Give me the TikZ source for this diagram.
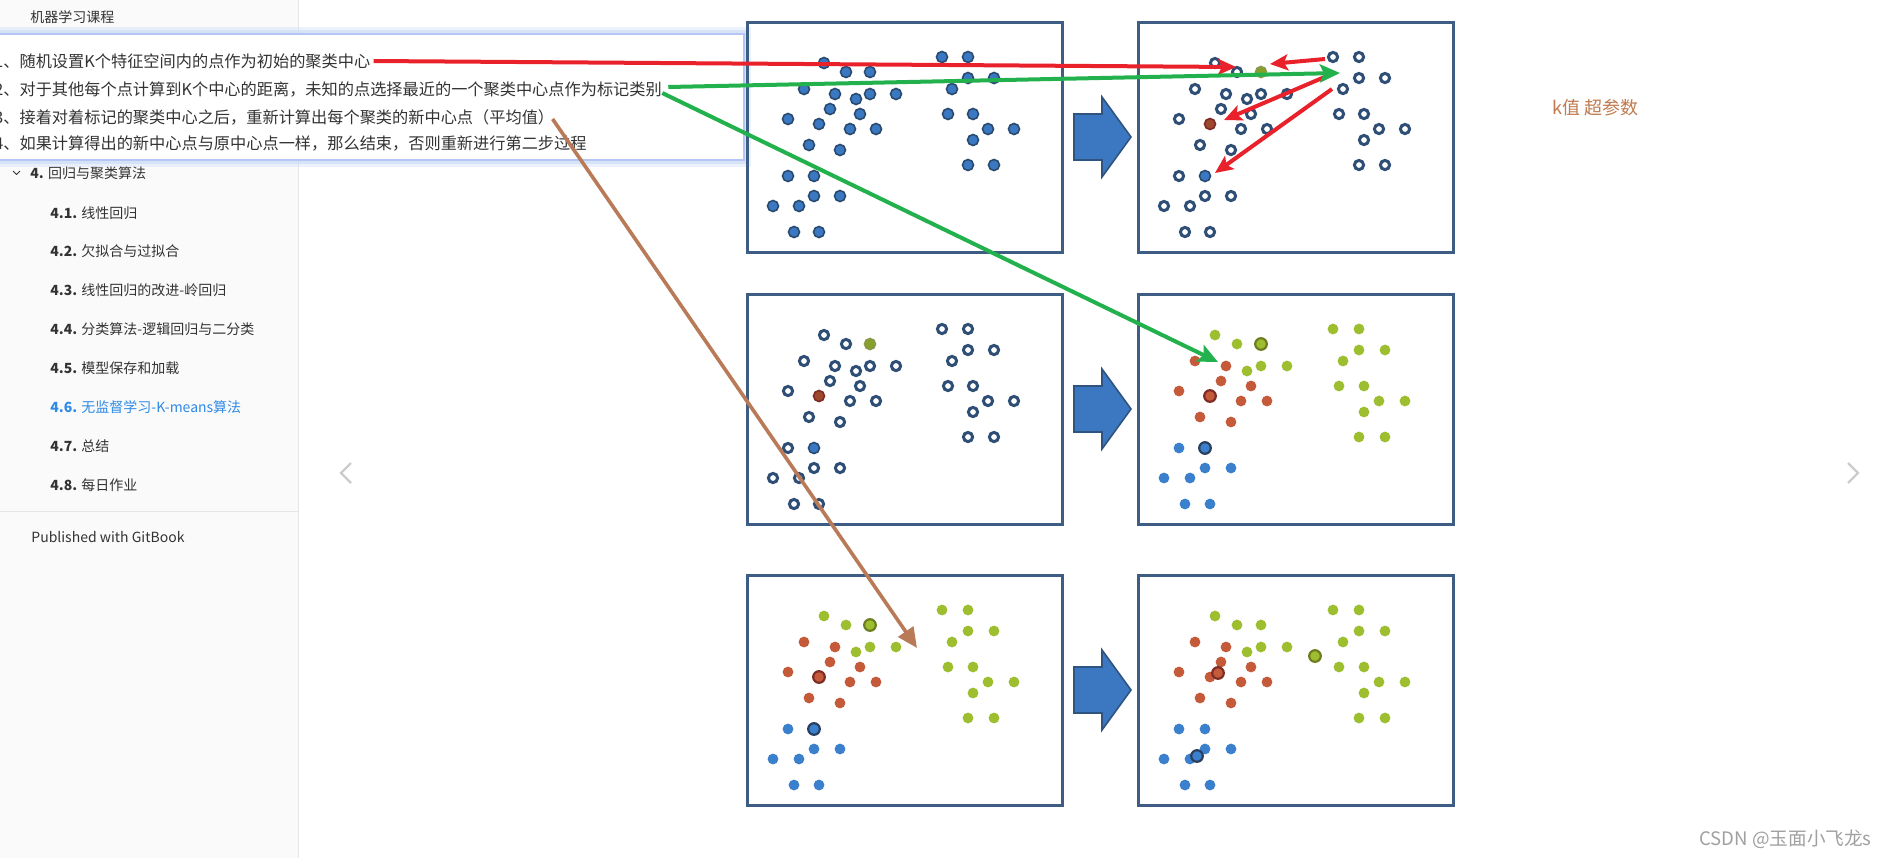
\documentclass[tikz,border=0pt]{standalone}
\usepackage{fontspec}
\setmainfont{Noto Sans CJK SC}
\usetikzlibrary{arrows.meta}
\definecolor{sidebg}{HTML}{FAFAFA}
\definecolor{sideline}{HTML}{E6E6E6}
\definecolor{textc}{HTML}{333333}
\definecolor{linkc}{HTML}{2E8AE6}
\definecolor{shadowc}{HTML}{C9DBF5}
\definecolor{panelc}{HTML}{3D5D84}
\definecolor{dotblue}{HTML}{3B78C2}
\definecolor{dotdark}{HTML}{2A4A70}
\definecolor{ringc}{HTML}{2F4E75}
\definecolor{lime}{HTML}{9DBE2F}
\definecolor{redd}{HTML}{C55A3A}
\definecolor{blued}{HTML}{3A80CC}
\definecolor{limedark}{HTML}{6E7D22}
\definecolor{reddark}{HTML}{7D2C26}
\definecolor{bluedark}{HTML}{2A3E5E}
\definecolor{arrowfill}{HTML}{3C78C1}
\definecolor{arrowdraw}{HTML}{2F5480}
\definecolor{redline}{HTML}{E8212B}
\definecolor{greenline}{HTML}{22B14C}
\definecolor{brownline}{HTML}{B97A57}
\definecolor{kcolor}{HTML}{C07A4E}
\definecolor{csdnc}{HTML}{A0A0A0}
\definecolor{chevc}{HTML}{CCCCCC}
% dot lists (panel-local px)
\newcommand\kGpts{77/41,99/50,109/77,123/72,149/72,195/35,221/35,221/56,247/56,205/67,201/92,226/92,241/107,267/107,226/118,221/143,247/143}
\newcommand\kRpts{57/67,88/72,83/87,41/97,113/92,103/107,129/107,62/123,93/128}
\newcommand\kBpts{41/154,67/174,93/174,26/184,52/184,47/210,72/210}
\tikzset{
  side/.style={anchor=west, inner sep=0pt, text=textc, font=\fontsize{7}{8}\selectfont},
  pop/.style={anchor=west, inner sep=0pt, text=textc, font=\fontsize{8.1}{9}\selectfont},
  pframe/.style={draw=panelc, line width=1.5pt},
  bdot/.style={fill=dotblue, draw=dotdark, line width=0.8pt},
  ringdot/.style={fill=white, draw=ringc, line width=1.5pt},
  barrow/.style={fill=arrowfill, draw=arrowdraw, line width=0.8pt, line join=miter},
  redarr/.style={draw=redline, line width=2pt, -{Stealth[length=9pt,width=8pt,inset=2pt]}},
  greenarr/.style={draw=greenline, line width=2pt, -{Stealth[length=10pt,width=9pt,inset=2pt]}},
  brownarr/.style={draw=brownline, line width=1.8pt, -{Triangle[length=10pt,width=9pt]}},
  chev/.style={draw=chevc, line width=1.2pt}
}
\newcommand\kframe{\draw[pframe] (0,0) rectangle (315,230);}
\newcommand\kcolored{%
  \foreach \a/\b in \kGpts {\fill[lime] (\a,\b) circle[radius=2.7pt];}
  \foreach \a/\b in \kRpts {\fill[redd] (\a,\b) circle[radius=2.7pt];}
  \foreach \a/\b in \kBpts {\fill[blued] (\a,\b) circle[radius=2.7pt];}}
\newcommand\kblock[1]{\filldraw[barrow] (1074,{#1-23}) -- (1102,{#1-23}) -- (1102,{#1-40}) -- (1131,#1) -- (1102,{#1+40}) -- (1102,{#1+23}) -- (1074,{#1+23}) -- cycle;}
\begin{document}
\begin{tikzpicture}[x=0.5pt,y=-0.5pt]
\useasboundingbox (0,0) rectangle (1887,858);
\clip (0,0) rectangle (1887,858);
\fill[white] (0,0) rectangle (1887,858);
% sidebar
\fill[sidebg] (0,0) rectangle (298,858);
\draw[sideline, line width=0.5pt] (298,0) -- (298,858);
\draw[sideline, line width=0.5pt] (0,511) -- (298,511);
\node[side] (s0) at (30,17) {机器学习课程};
\draw[textc, line width=0.5pt] (13,171) -- (16.5,174.5) -- (20,171);
\node[side] (s4) at (30,173) {\textbf{4.} 回归与聚类算法};
\node[side] (s41) at (50,213) {\textbf{4.1.} 线性回归};
\node[side] (s42) at (50,251) {\textbf{4.2.} 欠拟合与过拟合};
\node[side] (s43) at (50,290) {\textbf{4.3.} 线性回归的改进-岭回归};
\node[side] (s44) at (50,329) {\textbf{4.4.} 分类算法-逻辑回归与二分类};
\node[side] (s45) at (50,368) {\textbf{4.5.} 模型保存和加载};
\node[side, text=linkc] (s46) at (50,407) {\textbf{4.6.} 无监督学习-K-means算法};
\node[side] (s47) at (50,446) {\textbf{4.7.} 总结};
\node[side] (s48) at (50,485) {\textbf{4.8.} 每日作业};
\node[side] (pub) at (31,537) {Published with GitBook};
% popup
\fill[shadowc, opacity=0.35] (-10,27) rectangle (751,167);
\fill[shadowc, opacity=0.6] (-10,30) rectangle (748,164);
\fill[white] (-10,34) rectangle (744,160);
\draw[shadowc!90!blue, line width=0.6pt] (-10,34) rectangle (744,160);
\node[pop] (l1) at (-6,61) {1、随机设置K个特征空间内的点作为初始的聚类中心};
\node[pop] (l2) at (-6,89) {2、对于其他每个点计算到K个中心的距离，未知的点选择最近的一个聚类中心点作为标记类别};
\node[pop] (l3) at (-6,117) {3、接着对着标记的聚类中心之后，重新计算出每个聚类的新中心点（平均值）};
\node[pop] (l4) at (-6,144) {4、如果计算得出的新中心点与原中心点一样，那么结束，否则重新进行第二步过程};
% chevrons
\draw[chev] (351,463) -- (341,473) -- (351,483);
\draw[chev] (1848,463) -- (1858,473) -- (1848,483);
% panel 1
\begin{scope}[shift={(747,22)}]
  \kframe
  \foreach \a/\b in \kGpts {\filldraw[bdot] (\a,\b) circle[radius=2.75pt];}
  \foreach \a/\b in \kRpts {\filldraw[bdot] (\a,\b) circle[radius=2.75pt];}
  \foreach \a/\b in \kBpts {\filldraw[bdot] (\a,\b) circle[radius=2.75pt];}
  \foreach \a/\b in {123/50,72/102,67/154} {\filldraw[bdot] (\a,\b) circle[radius=2.75pt];}
\end{scope}
% panels 2 and 3
\foreach \ox/\oy in {1138/22, 747/294} {
\begin{scope}[shift={(\ox,\oy)}]
  \kframe
  \foreach \a/\b in \kGpts {\filldraw[ringdot] (\a,\b) circle[radius=2.3pt];}
  \foreach \a/\b in \kRpts {\filldraw[ringdot] (\a,\b) circle[radius=2.3pt];}
  \foreach \a/\b in \kBpts {\filldraw[ringdot] (\a,\b) circle[radius=2.3pt];}
  \filldraw[fill=lime!85!black, draw=limedark!80, line width=0.8pt] (123,50) circle[radius=2.75pt];
  \filldraw[fill=redd!80!black, draw=reddark, line width=0.8pt] (72,102) circle[radius=2.75pt];
  \filldraw[fill=dotblue, draw=dotdark, line width=0.8pt] (67,154) circle[radius=2.75pt];
\end{scope}}
% panels 4 and 5
\foreach \ox/\oy in {1138/294, 747/575} {
\begin{scope}[shift={(\ox,\oy)}]
  \kframe
  \kcolored
  \filldraw[fill=lime, draw=limedark, line width=1.1pt] (123,50) circle[radius=2.9pt];
  \filldraw[fill=redd, draw=reddark, line width=1.1pt] (72,102) circle[radius=2.9pt];
  \filldraw[fill=blued, draw=bluedark, line width=1.1pt] (67,154) circle[radius=2.9pt];
\end{scope}}
% panel 6
\begin{scope}[shift={(1138,575)}]
  \kframe
  \kcolored
  \fill[lime] (123,50) circle[radius=2.7pt];
  \fill[redd] (72,102) circle[radius=2.7pt];
  \fill[blued] (67,154) circle[radius=2.7pt];
  \filldraw[fill=lime, draw=limedark, line width=1.1pt] (177,81) circle[radius=2.9pt];
  \filldraw[fill=redd, draw=reddark, line width=1.1pt] (80,98) circle[radius=2.9pt];
  \filldraw[fill=blued, draw=bluedark, line width=1.1pt] (59,181) circle[radius=2.9pt];
\end{scope}
% block arrows
\kblock{137}
\kblock{409}
\kblock{690}
% side label and watermark
\node[anchor=west, inner sep=0pt, text=kcolor, font=\fontsize{9}{10}\selectfont] (kval) at (1552,108) {k值 超参数};
\node[anchor=east, inner sep=0pt, text=csdnc, font=\fontsize{9.3}{10}\selectfont] (csdn) at (1872,839) {CSDN @玉面小飞龙s};
% annotation connectors
\coordinate (t1) at (1236,67);
\coordinate (r2s) at (1325,59);
\coordinate (r2t) at (1270,64);
\coordinate (r3s) at (1327,76);
\coordinate (r3t) at (1224,120);
\coordinate (r4s) at (1332,89);
\coordinate (r4t) at (1215,173);
\coordinate (g1t) at (1340,73);
\coordinate (g2t) at (1218,362);
\coordinate (b1t) at (917,648);
\draw[redarr] ([xshift=1.5pt]l1.east) -- (t1);
\draw[redarr] (r2s) -- (r2t);
\draw[redarr] (r3s) -- (r3t);
\draw[redarr] (r4s) -- (r4t);
\draw[greenarr] ([xshift=3pt,yshift=1pt]l2.east) -- (g1t);
\draw[greenarr] ([yshift=-2pt]l2.east) -- (g2t);
\draw[brownarr] ([xshift=-1pt,yshift=-1pt]l3.east) -- (b1t);
\end{tikzpicture}
\end{document}
